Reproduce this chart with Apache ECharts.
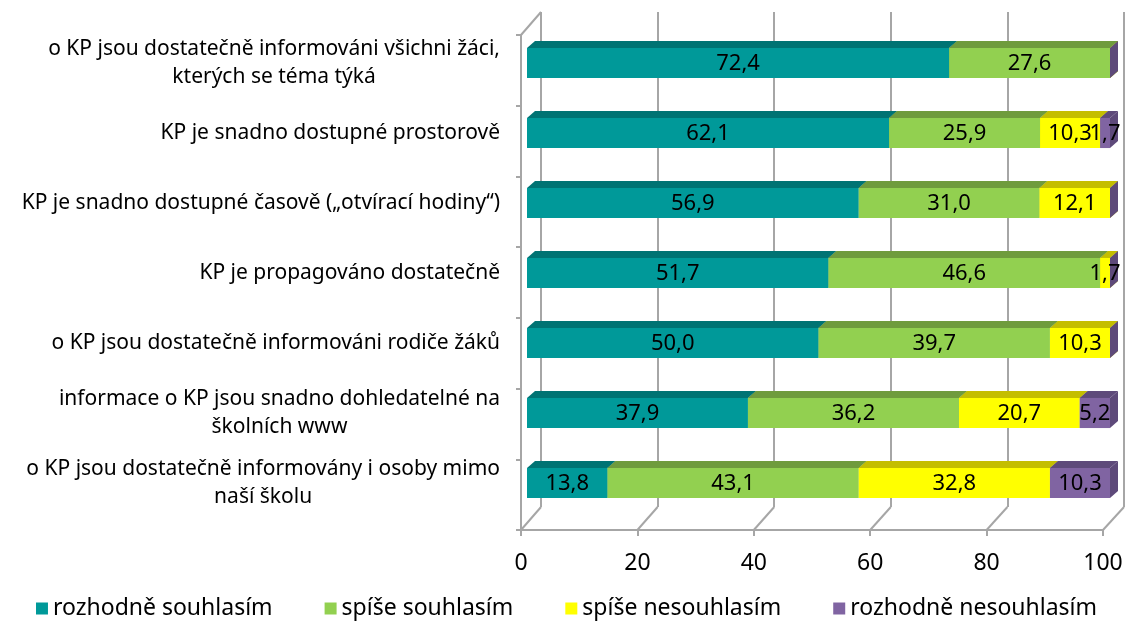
<!DOCTYPE html>
<html>
<head>
<meta charset="utf-8">
<script src="https://cdn.jsdelivr.net/npm/echarts@6/dist/echarts.min.js"></script>
<style>
  html, body { margin: 0; padding: 0; background: #fff; }
  #chart { width: 1133px; height: 622px; }
</style>
</head>
<body>
<div id="chart"></div>
<script>
var categories = [
    'o KP jsou dostatečně informováni všichni žáci,\nkterých se téma týká',
    'KP je snadno dostupné prostorově',
    'KP je snadno dostupné časově („otvírací hodiny“)',
    'KP je propagováno dostatečně',
    'o KP jsou dostatečně informováni rodiče žáků',
    'informace o KP jsou snadno dohledatelné na\nškolních www',
    'o KP jsou dostatečně informovány i osoby mimo\nnaší školu'
];
var seriesNames = ['rozhodně souhlasím', 'spíše souhlasím', 'spíše nesouhlasím', 'rozhodně nesouhlasím'];
var rozhodneSouhlasim = [72.4, 62.1, 56.9, 51.7, 50.0, 37.9, 13.8];
var spiseSouhlasim = [27.6, 25.9, 31.0, 46.6, 39.7, 36.2, 43.1];
var spiseNesouhlasim = [0, 10.3, 12.1, 1.7, 10.3, 20.7, 32.8];
var rozhodneNesouhlasim = [0, 1.7, 0, 0, 0, 5.2, 10.3];
var xTicks = [0, 20, 40, 60, 80, 100];

var frontColors = ['#009999', '#92D050', '#FFFF00', '#8064A2'];
var topColors = ['#007373', '#6F9B3D', '#C4BE00', '#5E4A7A'];
var gridColor = '#A6A6A6';
var font = 'Noto Sans';

var myChart = echarts.init(document.getElementById('chart'));

// build stacked [cat, start, end, value] rows for every layer
var layers = [rozhodneSouhlasim, spiseSouhlasim, spiseNesouhlasim, rozhodneNesouhlasim];
var stacked = [];
var base = categories.map(function () { return 0; });
layers.forEach(function (vals) {
    var rows = [];
    vals.forEach(function (v, i) {
        rows.push([i, base[i], base[i] + v, v]);
        base[i] += v;
    });
    stacked.push(rows);
});

function fmt(v) {
    return v.toFixed(1).replace('.', ',');
}

function makeRender(k) {
    return function (params, api) {
        var cat = api.value(0);
        var p0 = api.coord([api.value(1), cat]);
        var p1 = api.coord([api.value(2), cat]);
        var h = api.size([0, 1])[1] * 0.43;
        var dx = 8, dy = 7;
        var top = p0[1] - h / 2, bottom = p0[1] + h / 2;
        var x0 = p0[0], x1 = p1[0];
        var children = [
            { type: 'polygon', shape: { points: [[x0, top], [x0 + dx, top - dy], [x1 + dx, top - dy], [x1, top]] },
              style: { fill: topColors[k] } },
            { type: 'polygon', shape: { points: [[x1, top], [x1 + dx, top - dy], [x1 + dx, bottom - dy], [x1, bottom]] },
              style: { fill: topColors[k] } },
            { type: 'rect', shape: { x: x0, y: top, width: x1 - x0, height: h },
              style: { fill: frontColors[k] } }
        ];
        var v = api.value(3);
        if (v > 0) {
            children.push({
                type: 'text', z2: 10,
                style: { text: fmt(v), x: (x0 + x1) / 2, y: p0[1] + 1, align: 'center', verticalAlign: 'middle',
                         fill: '#000', font: '22px "' + font + '"' }
            });
        }
        return { type: 'group', children: children };
    };
}

var series = stacked.map(function (rows, k) {
    return {
        name: seriesNames[k],
        type: 'custom',
        xAxisIndex: 1,
        yAxisIndex: 1,
        itemStyle: { color: frontColors[k] },
        renderItem: makeRender(k),
        encode: { x: [1, 2], y: 0 },
        data: rows
    };
});

var option = {
    animation: false,
    textStyle: { fontFamily: font },
    legend: {
        data: seriesNames,
        bottom: -3,
        left: 'center',
        icon: 'rect',
        itemWidth: 12,
        itemHeight: 12,
        itemGap: 52,
        textStyle: { fontSize: 23, color: '#000', fontFamily: font }
    },
    grid: [
        { left: 541, right: 9, top: 12, bottom: 115 },   // back wall
        { left: 527, right: 23, top: 28, bottom: 104 },  // bars
        { left: 521, right: 30, top: 35, bottom: 92 }    // floor and left wall
    ],
    xAxis: [
        { gridIndex: 0, type: 'value', min: 0, max: 100, interval: 20,
          axisLine: { show: false }, axisTick: { show: false }, axisLabel: { show: false },
          splitLine: { lineStyle: { color: gridColor, width: 2 } } },
        { gridIndex: 1, type: 'value', min: 0, max: 100, interval: 20,
          axisLine: { show: false }, axisTick: { show: false }, axisLabel: { show: false },
          splitLine: { show: false } },
        { gridIndex: 2, type: 'value', min: 0, max: 100, interval: 20,
          axisLine: { show: true, lineStyle: { color: gridColor, width: 2 } },
          axisTick: { show: true, length: 6, lineStyle: { color: gridColor, width: 2 } },
          axisLabel: { fontSize: 23, color: '#000', margin: 22, fontFamily: font },
          splitLine: { show: false } }
    ],
    yAxis: [
        { gridIndex: 0, type: 'category', data: categories, inverse: true, show: false },
        { gridIndex: 1, type: 'category', data: categories, inverse: true,
          axisLine: { show: false }, axisTick: { show: false },
          axisLabel: {
              margin: 27, color: '#000', fontSize: 21, lineHeight: 28, fontFamily: font,
              formatter: function (val) {
                  return val.split('\n').map(function (l) { return '{c|' + l + '}'; }).join('\n');
              },
              rich: { c: { align: 'center', fontSize: 21, lineHeight: 28, color: '#000', fontFamily: font } }
          } },
        { gridIndex: 2, type: 'category', data: categories, inverse: true,
          axisLine: { show: true, lineStyle: { color: gridColor, width: 2 } },
          axisTick: { show: true, length: 5, lineStyle: { color: gridColor, width: 2 } },
          axisLabel: { show: false } }
    ],
    series: series
};

myChart.setOption(option);

// floor diagonals and top-left edge of the 3D frame
var floorFront = 530, floorBack = 507;
var lines = xTicks.map(function (t) {
    var a = myChart.convertToPixel({ xAxisIndex: 2 }, t);
    var b = myChart.convertToPixel({ xAxisIndex: 0 }, t);
    return { type: 'line', silent: true,
             shape: { x1: a, y1: floorFront, x2: b, y2: floorBack },
             style: { stroke: gridColor, lineWidth: 2 } };
});
lines.push({ type: 'line', silent: true,
             shape: { x1: myChart.convertToPixel({ xAxisIndex: 2 }, 0), y1: 35,
                      x2: myChart.convertToPixel({ xAxisIndex: 0 }, 0), y2: 12 },
             style: { stroke: gridColor, lineWidth: 2 } });
myChart.setOption({ graphic: lines });
</script>
</body>
</html>
